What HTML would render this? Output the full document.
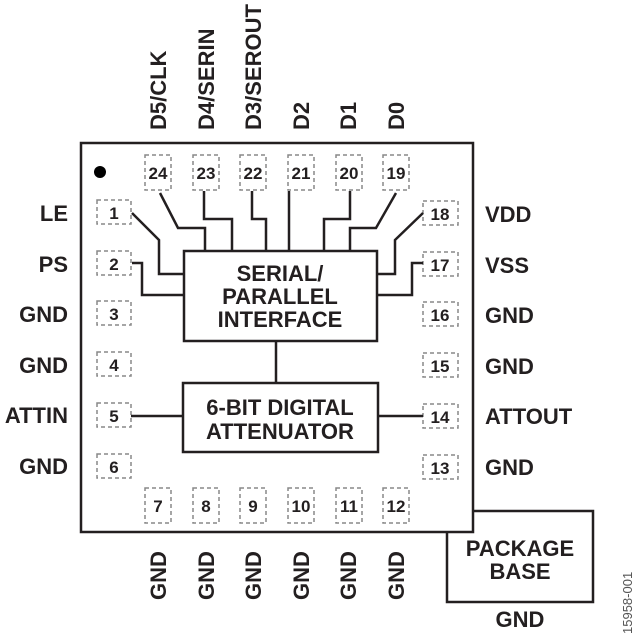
<!DOCTYPE html>
<html><head><meta charset="utf-8"><style>
html,body{margin:0;padding:0;background:#fff;}
svg{display:block;}
text{font-family:"Liberation Sans",Arial,sans-serif;font-weight:bold;fill:#231f20;}
</style></head><body>
<svg width="640" height="636" viewBox="0 0 640 636" xmlns="http://www.w3.org/2000/svg">
<rect x="447" y="511" width="146" height="91" fill="#fff" stroke="#231f20" stroke-width="2.5"/>
<rect x="81" y="143" width="392" height="389" fill="#fff" stroke="#231f20" stroke-width="2.5"/>
<circle cx="100" cy="172" r="6" fill="#000"/>

<g fill="none" stroke="#888" stroke-width="1.5" stroke-dasharray="4,3">
<rect x="145" y="155" width="26" height="35"/>
<rect x="193" y="155" width="26" height="35"/>
<rect x="240" y="155" width="26" height="35"/>
<rect x="288" y="155" width="26" height="35"/>
<rect x="336" y="155" width="26" height="35"/>
<rect x="383" y="155" width="26" height="35"/>
<rect x="145" y="488" width="26" height="35"/>
<rect x="193" y="488" width="26" height="35"/>
<rect x="240" y="488" width="26" height="35"/>
<rect x="288" y="488" width="26" height="35"/>
<rect x="336" y="488" width="26" height="35"/>
<rect x="383" y="488" width="26" height="35"/>
<rect x="97" y="200" width="34" height="24"/>
<rect x="97" y="251" width="34" height="24"/>
<rect x="97" y="301" width="34" height="24"/>
<rect x="97" y="352" width="34" height="24"/>
<rect x="97" y="403" width="34" height="24"/>
<rect x="97" y="454" width="34" height="24"/>
<rect x="423" y="201" width="35" height="24"/>
<rect x="423" y="252" width="35" height="24"/>
<rect x="423" y="302" width="35" height="24"/>
<rect x="423" y="353" width="35" height="24"/>
<rect x="423" y="404" width="35" height="24"/>
<rect x="423" y="455" width="35" height="24"/>
</g>

<g fill="none" stroke="#231f20" stroke-width="2.5">
<rect x="184" y="251" width="193" height="90"/>
<rect x="183" y="383" width="195" height="69"/>
<line x1="276" y1="341" x2="276" y2="383"/>
<polyline points="160,193 178,228 205,228 205,251"/>
<polyline points="204,191 204,219 232,219 232,251"/>
<polyline points="252,191 252,219 266,219 266,251"/>
<polyline points="289,191 289,251"/>
<polyline points="350,191 350,219 324,219 324,251"/>
<polyline points="396,193 376,228 350,228 350,251"/>
<polyline points="132,213 159,240 159,274 184,274"/>
<polyline points="132,263 142,263 142,295 184,295"/>
<polyline points="423,213 395,240 395,274 377,274"/>
<polyline points="423,263 412,263 412,295 377,295"/>
<line x1="131" y1="416" x2="183" y2="416"/>
<line x1="378" y1="416" x2="423" y2="416"/>
</g>

<g font-size="17" text-anchor="middle">
<text x="158" y="179">24</text><text x="206" y="179">23</text><text x="253" y="179">22</text>
<text x="301" y="179">21</text><text x="349" y="179">20</text><text x="396" y="179">19</text>
<text x="158" y="512">7</text><text x="206" y="512">8</text><text x="253" y="512">9</text>
<text x="301" y="512">10</text><text x="349" y="512">11</text><text x="396" y="512">12</text>
<text x="114" y="219">1</text><text x="114" y="270">2</text><text x="114" y="320">3</text>
<text x="114" y="371">4</text><text x="114" y="422">5</text><text x="114" y="473">6</text>
<text x="440" y="220">18</text><text x="440" y="271">17</text><text x="440" y="321">16</text>
<text x="440" y="372">15</text><text x="440" y="423">14</text><text x="440" y="474">13</text>
</g>

<g font-size="22" text-anchor="end">
<text x="68" y="221">LE</text><text x="68" y="272">PS</text><text x="68" y="322">GND</text>
<text x="68" y="373">GND</text><text x="68" y="423">ATTIN</text><text x="68" y="474">GND</text>
</g>
<g font-size="22">
<text x="485" y="222">VDD</text><text x="485" y="273">VSS</text><text x="485" y="323">GND</text>
<text x="485" y="374">GND</text><text x="485" y="424">ATTOUT</text><text x="485" y="475">GND</text>
</g>
<g font-size="22">
<text transform="translate(166,130) rotate(-90)">D5/CLK</text>
<text transform="translate(214,130) rotate(-90)">D4/SERIN</text>
<text transform="translate(261,130) rotate(-90)">D3/SEROUT</text>
<text transform="translate(309,130) rotate(-90)">D2</text>
<text transform="translate(356,130) rotate(-90)">D1</text>
<text transform="translate(404,130) rotate(-90)">D0</text>
</g>
<g font-size="22">
<text transform="translate(166,600) rotate(-90)">GND</text>
<text transform="translate(214,600) rotate(-90)">GND</text>
<text transform="translate(261,600) rotate(-90)">GND</text>
<text transform="translate(309,600) rotate(-90)">GND</text>
<text transform="translate(356,600) rotate(-90)">GND</text>
<text transform="translate(404,600) rotate(-90)">GND</text>
</g>
<g font-size="22" text-anchor="middle">
<text x="280" y="281">SERIAL/</text>
<text x="280" y="304">PARALLEL</text>
<text x="280" y="327">INTERFACE</text>
<text x="280" y="415">6-BIT DIGITAL</text>
<text x="280" y="439">ATTENUATOR</text>
<text x="520" y="556">PACKAGE</text>
<text x="520" y="579">BASE</text>
<text x="520" y="627">GND</text>
</g>
<text transform="translate(632,634) rotate(-90)" font-size="13" style="font-weight:normal;fill:#555">15958-001</text>
</svg>
</body></html>
